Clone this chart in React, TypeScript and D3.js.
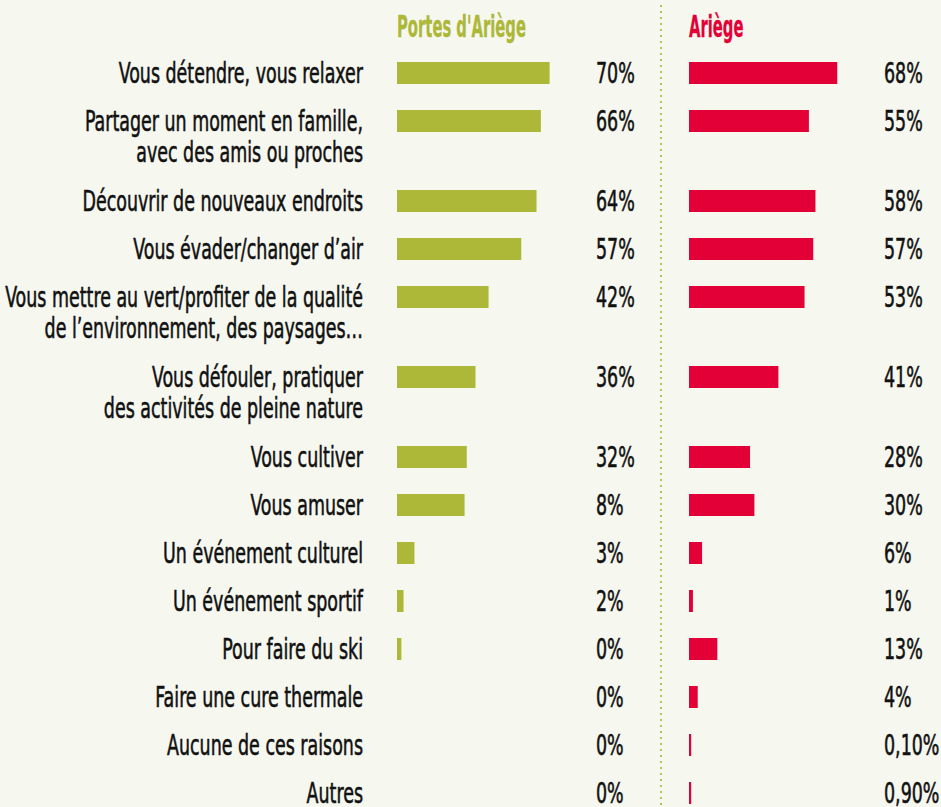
import React, { useEffect, useRef } from 'react';
import * as d3 from 'd3';

// Row labels (line breaks as in the original)
const categories: string[][] = [
  ['Vous détendre, vous relaxer'],
  ['Partager un moment en famille,', 'avec des amis ou proches'],
  ['Découvrir de nouveaux endroits'],
  ['Vous évader/changer d’air'],
  ['Vous mettre au vert/profiter de la qualité', 'de l’environnement, des paysages…'],
  ['Vous défouler, pratiquer', 'des activités de pleine nature'],
  ['Vous cultiver'],
  ['Vous amuser'],
  ['Un événement culturel'],
  ['Un événement sportif'],
  ['Pour faire du ski'],
  ['Faire une cure thermale'],
  ['Aucune de ces raisons'],
  ['Autres'],
];

const seriesNames = ["Portes d'Ariège", 'Ariège'];

// bar lengths as drawn in the picture (%)
const portesValues = [70, 66, 64, 57, 42, 36, 32, 31, 8, 3, 2, 0, 0, 0];
const ariegeValues = [68, 55, 58, 57, 53, 41, 28, 30, 6, 1.8, 13, 4, 1, 1];

// printed labels
const portesLabels = ['70%', '66%', '64%', '57%', '42%', '36%', '32%', '8%', '3%', '2%', '0%', '0%', '0%', '0%'];
const ariegeLabels = ['68%', '55%', '58%', '57%', '53%', '41%', '28%', '30%', '6%', '1%', '13%', '4%', '0,10%', '0,90%'];

const WIDTH = 941;
const HEIGHT = 807;
const FONT = "'Liberation Sans Narrow', 'DejaVu Sans Condensed', sans-serif";
const GREEN = '#adb838';
const RED = '#e30037';

const App = () => {
  const svgRef = useRef<SVGSVGElement>(null);

  useEffect(() => {
    const svg = d3.select(svgRef.current);
    svg.selectAll('*').remove();

    svg.append('rect')
      .attr('width', WIDTH)
      .attr('height', HEIGHT)
      .attr('fill', '#f6f7ef');

    // row centres: 48px per row, 32px per extra text line
    const rowY: number[] = [];
    let acc = 73;
    categories.forEach(lines => {
      rowY.push(acc);
      acc += 48 + 32 * (lines.length - 1);
    });

    const x = d3.scaleLinear().domain([0, 100]).range([0, 218]);

    // measure font to get horizontal compression
    const probe = svg.append('text')
      .attr('font-family', FONT)
      .attr('font-size', 28)
      .text(categories[4][0]);
    const probeLen = (probe.node() as SVGTextElement).getComputedTextLength();
    probe.remove();
    const sx = probeLen > 0 ? 358 / probeLen : 0.8;

    const tprobe = svg.append('text')
      .attr('font-family', FONT)
      .attr('font-size', 30)
      .attr('font-weight', 'bold')
      .text(seriesNames[0]);
    const tLen = (tprobe.node() as SVGTextElement).getComputedTextLength();
    tprobe.remove();
    const tsx = tLen > 0 ? 129 / tLen : 0.65;

    const addText = (g: d3.Selection<any, any, any, any>, tx: number, ty: number, txt: string,
      anchor: string, scale: number, opts: { size?: number; weight?: string; fill?: string } = {}) => {
      g.append('text')
        .attr('transform', `translate(${tx},${ty}) scale(${scale},1)`)
        .attr('font-family', FONT)
        .attr('font-size', opts.size ?? 28)
        .attr('font-weight', opts.weight ?? 'normal')
        .attr('fill', opts.fill ?? '#111')
        .attr('stroke', opts.fill ?? '#111')
        .attr('stroke-width', opts.weight === 'bold' ? 0.3 : 0.55)
        .attr('text-anchor', anchor)
        .text(txt);
    };

    // divider
    svg.append('line')
      .attr('x1', 661).attr('x2', 661)
      .attr('y1', 5).attr('y2', HEIGHT)
      .attr('stroke', '#b7c24c')
      .attr('stroke-width', 2)
      .attr('stroke-dasharray', '2 4');

    // titles
    const titles = svg.append('g');
    addText(titles, 397, 37, seriesNames[0], 'start', tsx, { size: 30, weight: 'bold', fill: GREEN });
    addText(titles, 689, 37, seriesNames[1], 'start', tsx, { size: 30, weight: 'bold', fill: RED });

    // category labels
    const labels = svg.append('g');
    categories.forEach((lines, i) => {
      lines.forEach((line, j) => {
        addText(labels, 363, rowY[i] + 9.5 + j * 31.5, line, 'end', sx);
      });
    });

    const panels = [
      { x0: 397, values: portesValues, labels: portesLabels, color: GREEN, labelX: 596 },
      { x0: 689, values: ariegeValues, labels: ariegeLabels, color: RED, labelX: 884 },
    ];

    panels.forEach(p => {
      const g = svg.append('g');
      g.selectAll('rect')
        .data(p.values)
        .enter().append('rect')
        .attr('x', p.x0)
        .attr('y', (_, i) => rowY[i] - 11)
        .attr('width', d => x(d))
        .attr('height', 22)
        .attr('fill', p.color);
      p.labels.forEach((lab, i) => {
        addText(g, p.labelX, rowY[i] + 10, lab, 'start', sx);
      });
    });
  }, []);

  return (
    <svg
      ref={svgRef}
      width={WIDTH}
      height={HEIGHT}
      style={{ position: 'absolute', left: 0, top: 0, display: 'block' }}
    />
  );
};

export default App;
